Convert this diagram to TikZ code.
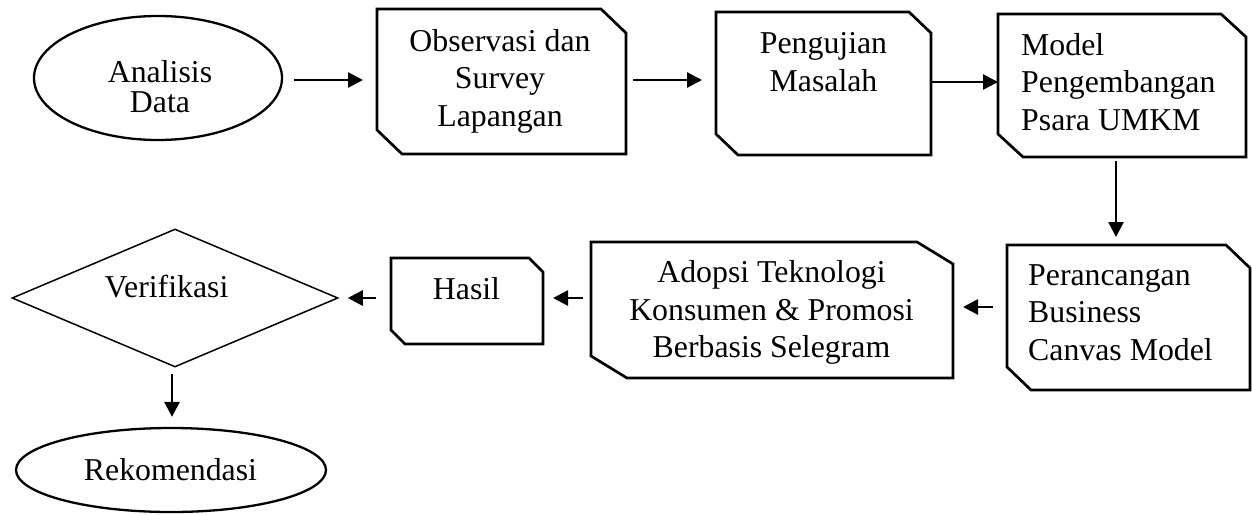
\documentclass[tikz,border=0pt]{standalone}
\usepackage{fontspec}
\setmainfont{Liberation Serif}
\usetikzlibrary{arrows.meta,shapes.geometric}

% outline of a box with its top-right and bottom-left corners cut off
\newcommand\snipoutline[3]{%
  \draw[boxline] (#1.north west) -- ([xshift=-#2]#1.north east)
    -- ([yshift=-#3]#1.north east) -- (#1.south east)
    -- ([xshift=#2]#1.south west) -- ([yshift=#3]#1.south west) -- cycle;}

\tikzset{
  boxline/.style={line width=2.7pt, line join=miter},
  frame/.style={rectangle, inner sep=0pt, outer sep=0pt},
  oval/.style={ellipse, draw, line width=2.3pt, inner sep=0pt},
  arr/.style={line width=2.7pt, -{Triangle[length=15pt,width=15pt]}},
  txt/.style={inner sep=0pt, font=\fontsize{31.8pt}{37.5pt}\selectfont},
}

\begin{document}
\begin{tikzpicture}[x=1pt,y=-1pt]
\useasboundingbox (0,0) rectangle (1252,514);

% shapes
\node[oval, minimum width=248pt, minimum height=124pt] (ana) at (158,78) {};
\node[frame, minimum width=249pt, minimum height=145pt] (obs) at (501.5,81.5) {};
\node[frame, minimum width=215pt, minimum height=143pt] (pen) at (823.5,83.5) {};
\node[frame, minimum width=248pt, minimum height=143pt] (mod) at (1122,85.5) {};
\node[frame, minimum width=243pt, minimum height=145pt] (per) at (1128.5,317.5) {};
\node[frame, minimum width=362pt, minimum height=136pt] (ado) at (772,310) {};
\node[frame, minimum width=152pt, minimum height=86pt] (has) at (467,301) {};
\node[diamond, draw, line width=1.5pt, inner sep=0pt,
      minimum width=326pt, minimum height=138pt] (ver) at (175,298) {};
\node[oval, minimum width=310pt, minimum height=84pt] (rek) at (171,470) {};

\snipoutline{obs}{25pt}{24pt}
\snipoutline{pen}{22pt}{21pt}
\snipoutline{mod}{25pt}{23pt}
\snipoutline{per}{24pt}{23pt}
\snipoutline{ado}{36pt}{22pt}
\snipoutline{has}{14pt}{14pt}

% texts
\node[txt, align=center, font=\fontsize{31.8pt}{30pt}\selectfont] (tana) at (160,86.5) {Analisis\\Data};
\node[txt, align=center] (tobs) at (500,81) {Observasi dan\\Survey\\Lapangan};
\node[txt, align=center] (tpen) at (823.5,62) {Pengujian\\Masalah};
\node[txt, align=left, anchor=west] (tmod) at (1021,81.75) {Model\\Pengembangan\\Psara UMKM};
\node[txt, align=left, anchor=west] (tper) at (1028,312.25) {Perancangan\\Business\\Canvas Model};
\node[txt, align=center] (tado) at (771.5,312.75) {Adopsi Teknologi\\Konsumen \& Promosi\\Berbasis Selegram};
\node[txt] (thas) at (466.5,289) {Hasil};
\node[txt] (tver) at (166.5,287) {Verifikasi};
\node[txt] (trek) at (170.5,470) {Rekomendasi};

% connectors
\draw[arr] ([shift={(11,2)}]ana.east) -- ([shift={(-14,-1.5)}]obs.west);
\draw[arr] ([shift={(7,-1.5)}]obs.east) -- ([shift={(-14,-3.5)}]pen.west);
\draw[arr] ([shift={(0,-1.5)}]pen.east) -- ([shift={(0,-3.5)}]mod.west);
\draw[arr] ([shift={(-6,4)}]mod.south) -- ([shift={(-12.5,-8)}]per.north);
\draw[arr] ([shift={(-14,-10.5)}]per.west) -- ([shift={(10,-3)}]ado.east);
\draw[arr] ([shift={(-8,-12)}]ado.west) -- ([shift={(10,-3)}]has.east);
\draw[arr] ([shift={(-15,-3)}]has.west) -- ([shift={(9,0)}]ver.east);
\draw[arr] ([shift={(-3,6)}]ver.south) -- ([shift={(1,-10)}]rek.north);
\end{tikzpicture}
\end{document}
